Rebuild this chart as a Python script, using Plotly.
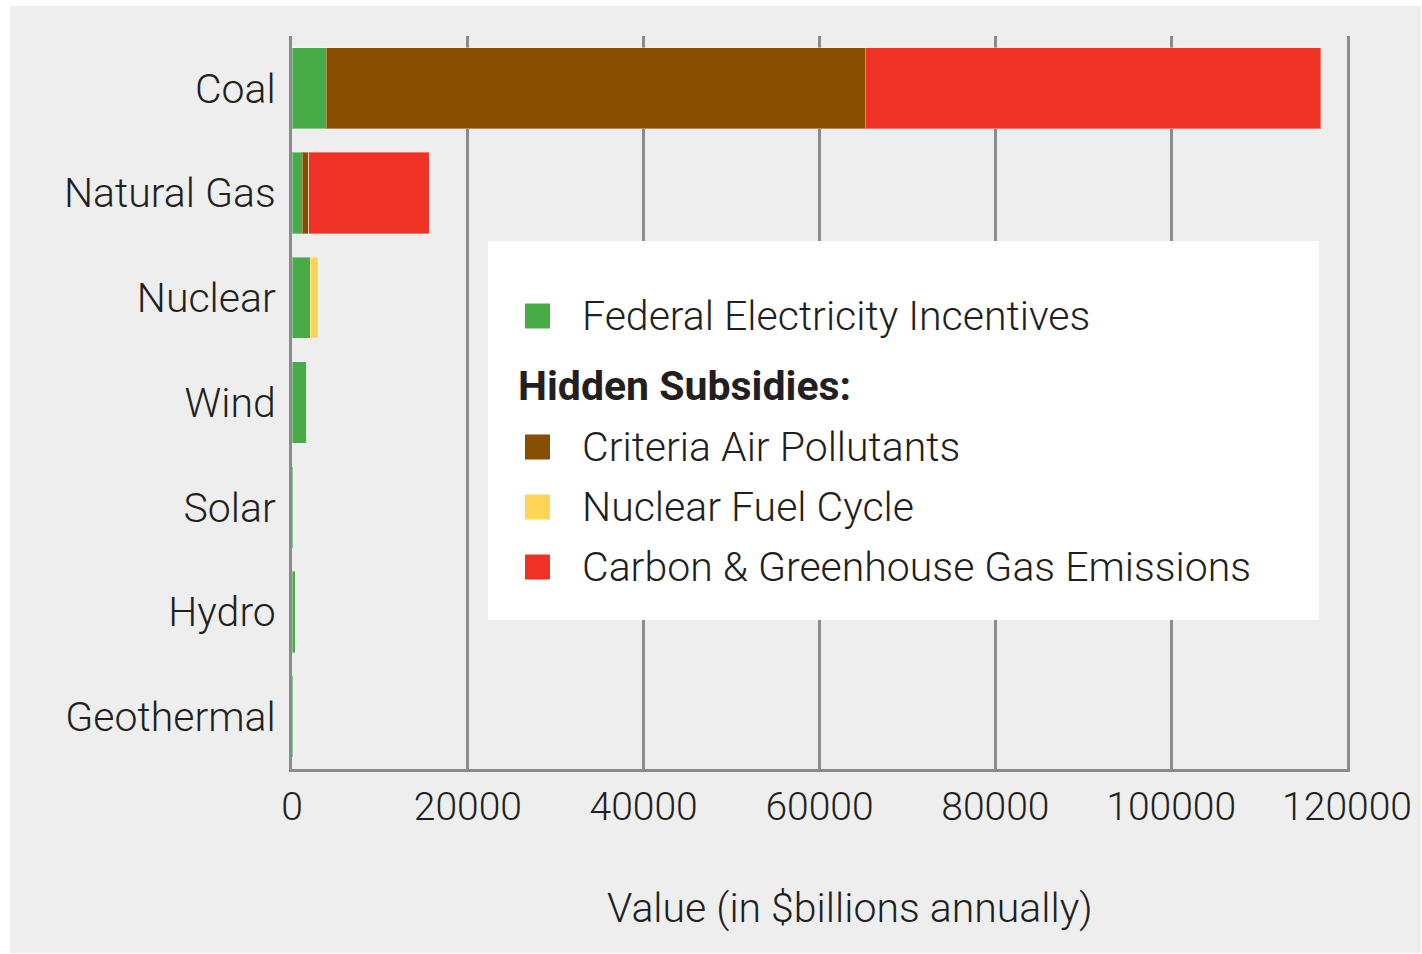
import plotly.graph_objects as go

# Energy sources and their annual cost components ($billions)
sources = ["Coal", "Natural Gas", "Nuclear", "Wind", "Solar", "Hydro", "Geothermal"]
federal_incentives = [3900, 1150, 2050, 1650, 120, 380, 130]
criteria_air_pollutants = [61300, 750, 0, 0, 0, 0, 0]
nuclear_fuel_cycle = [0, 0, 950, 0, 0, 0, 0]
carbon_emissions = [51800, 13700, 0, 0, 0, 0, 0]

x_ticks = [0, 20000, 40000, 60000, 80000, 100000, 120000]

series_names = [
    "Federal Electricity Incentives",
    "Criteria Air Pollutants",
    "Nuclear Fuel Cycle",
    "Carbon & Greenhouse Gas Emissions",
]
series_values = [federal_incentives, criteria_air_pollutants, nuclear_fuel_cycle, carbon_emissions]
series_colors = ["#47ac47", "#874e00", "#ffd555", "#ee3226"]
legend_header = "Hidden Subsidies:"

W, H = 1422, 954
ML, MR, MT, MB = 292, 75, 36, 185
PW, PH = W - ML - MR, H - MT - MB

BG = "#edeeed"
GRID = "#8b8b8e"
FONT = "Roboto"
TEXT = "#231f20"


def px_x(p):
    return (p - ML) / PW


def px_y(p):
    return (H - MB - p) / PH


fig = go.Figure()
for name, vals, col in zip(series_names, series_values, series_colors):
    fig.add_trace(go.Bar(
        y=sources, x=vals, name=name, orientation="h",
        marker=dict(color=col, line=dict(color="rgba(255,255,255,0.35)", width=1)),
        showlegend=False,
    ))

shapes = [
    # grey card behind the chart
    dict(type="rect", xref="paper", yref="paper", layer="below",
         x0=px_x(10), x1=px_x(1421), y0=px_y(953), y1=px_y(6),
         fillcolor=BG, line=dict(width=0)),
    # white legend panel
    dict(type="rect", xref="paper", yref="paper", layer="above",
         x0=px_x(488), x1=px_x(1319), y0=px_y(620), y1=px_y(241),
         fillcolor="white", line=dict(width=0)),
]

annotations = []
# legend rows: (y centre in px, label, colour or None for header)
rows = [
    (316, series_names[0], series_colors[0]),
    (386, legend_header, None),
    (447, series_names[1], series_colors[1]),
    (507, series_names[2], series_colors[2]),
    (567, series_names[3], series_colors[3]),
]
for yc, label, col in rows:
    if col is None:
        annotations.append(dict(
            xref="paper", yref="paper", x=px_x(516), y=px_y(yc),
            xanchor="left", yanchor="middle", showarrow=False,
            text="<b>" + label + "</b>",
            font=dict(family=FONT, size=41, color=TEXT, weight=700),
        ))
    else:
        shapes.append(dict(
            type="rect", xref="paper", yref="paper", layer="above",
            x0=px_x(525), x1=px_x(550), y0=px_y(yc + 12.5), y1=px_y(yc - 12.5),
            fillcolor=col, line=dict(width=0),
        ))
        annotations.append(dict(
            xref="paper", yref="paper", x=px_x(580), y=px_y(yc),
            xanchor="left", yanchor="middle", showarrow=False, text=label,
            font=dict(family=FONT, size=41, color=TEXT, weight=300),
        ))

# x-axis title
annotations.append(dict(
    xref="paper", yref="paper", x=px_x(850), y=px_y(908),
    xanchor="center", yanchor="middle", showarrow=False,
    text="Value (in $billions annually)",
    font=dict(family=FONT, size=41, color=TEXT, weight=300),
))

fig.update_layout(
    width=W, height=H,
    margin=dict(l=ML, r=MR, t=MT, b=MB),
    paper_bgcolor="white", plot_bgcolor=BG,
    barmode="stack", bargap=0.225,
    font=dict(family=FONT, size=38, color=TEXT, weight=300),
    shapes=shapes, annotations=annotations,
    xaxis=dict(
        range=[0, 120000], tickvals=x_ticks, ticktext=[str(v) for v in x_ticks],
        showgrid=True, gridcolor=GRID, gridwidth=3,
        showline=True, linecolor=GRID, linewidth=3,
        zeroline=False, ticks="", ticklabelstandoff=1, automargin=False,
        tickfont=dict(family=FONT, size=39, color=TEXT, weight=300),
    ),
    yaxis=dict(
        categoryorder="array", categoryarray=sources, autorange="reversed",
        showgrid=False, showline=True, mirror=True, linecolor=GRID, linewidth=3,
        ticks="", ticklabelstandoff=5, automargin=False,
        tickfont=dict(family=FONT, size=41, color=TEXT, weight=300),
    ),
)

fig.write_html("out.html")
